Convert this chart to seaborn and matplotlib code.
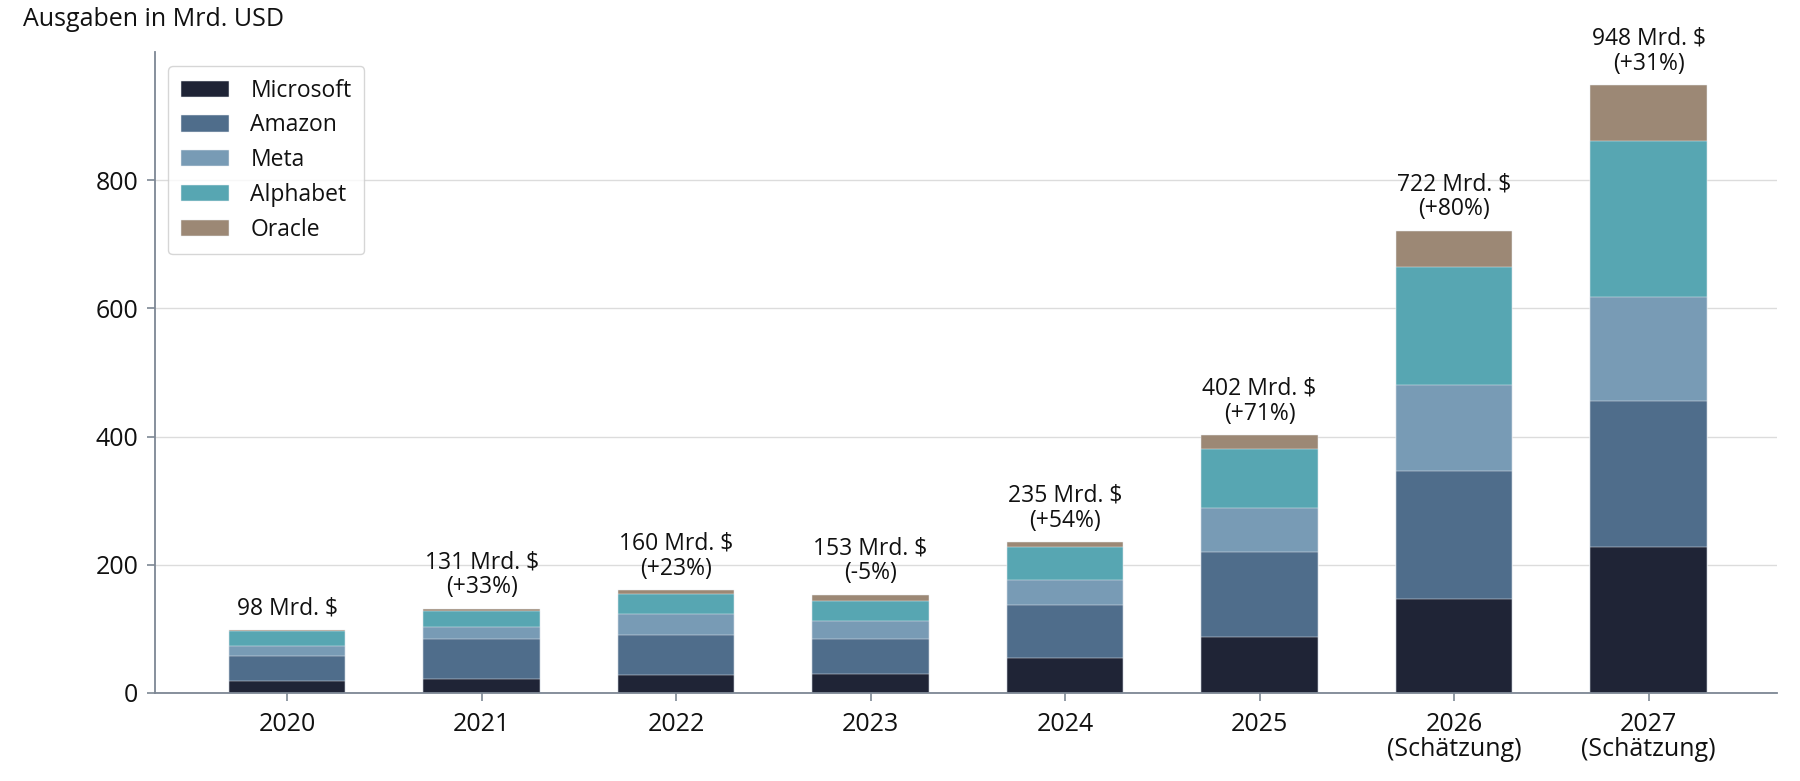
import matplotlib
matplotlib.use("Agg")
import matplotlib.pyplot as plt
import seaborn as sns
import pandas as pd
import numpy as np
from matplotlib.patches import Patch

# ---- data ----
years = ["2020", "2021", "2022", "2023", "2024", "2025",
         "2026\n(Schätzung)", "2027\n(Schätzung)"]
companies = ["Microsoft", "Amazon", "Meta", "Alphabet", "Oracle"]
microsoft = [18, 22, 28, 30, 54, 88, 147, 227]
amazon    = [39, 62, 63, 54, 84, 132, 199, 229]
meta      = [16, 19, 32, 28, 38, 68, 135, 162]
alphabet  = [24, 25, 32, 32, 52, 92, 184, 243]
oracle    = [1, 3, 5, 9, 7, 22, 56, 87]
total_labels = [98, 131, 160, 153, 235, 402, 722, 948]
growth_labels = [None, "+33%", "+23%", "-5%", "+54%", "+71%", "+80%", "+31%"]
colors = ["#1f2436", "#4f6d8b", "#789bb5", "#57a6b2", "#9c8875"]

series = [microsoft, amazon, meta, alphabet, oracle]

sns.set_theme(style="white")
plt.rcParams["font.family"] = ["Open Sans", "DejaVu Sans"]

fig = plt.figure(figsize=(18, 7.81), dpi=100)
ax = fig.add_axes([155 / 1800, 1 - 693 / 781, (1777 - 155) / 1800, (693 - 52) / 781])

# cumulative stacks, drawn from the top layer down
df = pd.DataFrame({"year": years})
cum = np.zeros(len(years))
cums = []
for s in series:
    cum = cum + np.array(s)
    cums.append(cum.copy())

for name, c, col in reversed(list(zip(companies, cums, colors))):
    df["val"] = c
    sns.barplot(data=df, x="year", y="val", order=years, color=col,
                width=0.6, ax=ax, edgecolor="#e8ecf0", linewidth=0.35,
                saturation=1, errorbar=None)

# annotations
for i, (t, g) in enumerate(zip(total_labels, growth_labels)):
    txt = f"{t} Mrd. $" if g is None else f"{t} Mrd. $\n({g})"
    ax.annotate(txt, xy=(i, cums[-1][i]), xytext=(0, 7), textcoords="offset points",
                ha="center", va="bottom", fontsize=16.5, color="#111111",
                linespacing=1.05)

ax.set_xlim(-0.679, 7.66)
ax.set_ylim(0, 1000)
ax.set_yticks([0, 200, 400, 600, 800])
ax.set_xlabel("")
ax.set_ylabel("")
ax.yaxis.grid(True, color="#dcdcdc", linewidth=1)
ax.set_axisbelow(True)

for sp in ["top", "right"]:
    ax.spines[sp].set_visible(False)
ax.spines["left"].set_color("#7d8794")
ax.spines["bottom"].set_color("#7d8794")
ax.spines["left"].set_linewidth(1.3)
ax.spines["bottom"].set_linewidth(1.3)
ax.tick_params(axis="both", which="both", length=6, width=1.2, color="#7d8794",
               labelsize=18, labelcolor="#111111", direction="out")
ax.tick_params(axis="x", pad=8)
ax.tick_params(axis="y", left=True, pad=6)
ax.tick_params(axis="x", bottom=True)
for lab in ax.get_xticklabels():
    lab.set_linespacing(1.0)

handles = [Patch(facecolor=c, edgecolor="#e8ecf0", linewidth=0.35, label=n)
           for n, c in zip(companies, colors)]
leg = ax.legend(handles=handles, loc="upper left", bbox_to_anchor=(0.008, 0.978),
                fontsize=16.5, frameon=True, handlelength=2.1, handleheight=0.72,
                handletextpad=0.95, labelspacing=0.47, borderpad=0.55,
                borderaxespad=0.0, fancybox=True)
leg.get_frame().set_edgecolor("#cccccc")
leg.get_frame().set_linewidth(1.0)
for t in leg.get_texts():
    t.set_color("#111111")

fig.text(23 / 1800, 1 - 19 / 781, "Ausgaben in Mrd. USD", ha="left", va="center",
         fontsize=18, color="#111111")

fig.savefig("out.png", dpi=100)
